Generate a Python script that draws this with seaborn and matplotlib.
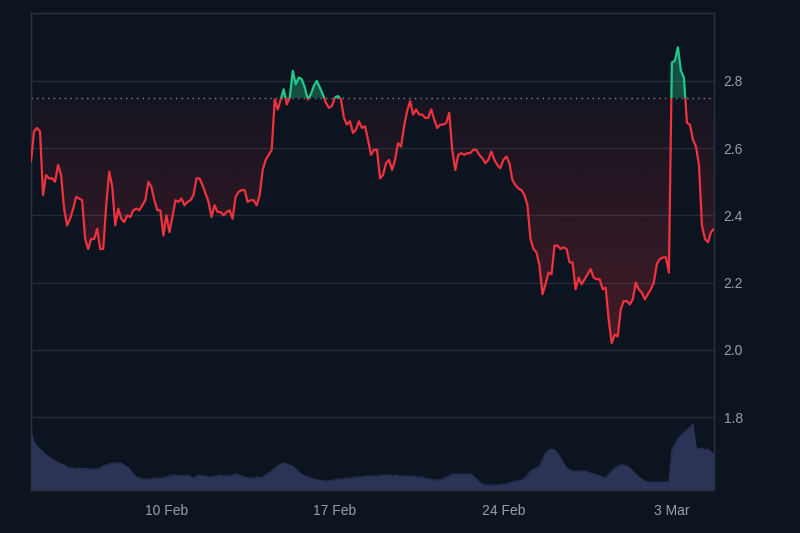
import numpy as np
import pandas as pd
import matplotlib
matplotlib.use("Agg")
import matplotlib.pyplot as plt
import matplotlib.dates as mdates
import matplotlib.transforms as mtransforms
from matplotlib.patches import Rectangle
from matplotlib.path import Path
import seaborn as sns

# ---------------- data (3-hourly samples) ----------------
price = [
    2.56, 2.65, 2.66, 2.65, 2.46, 2.52, 2.51, 2.51, 2.50, 2.55,
    2.52, 2.42, 2.37, 2.39, 2.42, 2.455, 2.45, 2.445, 2.33, 2.30,
    2.33, 2.33, 2.36, 2.30, 2.30, 2.43, 2.53, 2.485, 2.37, 2.42,
    2.39, 2.38, 2.40, 2.395, 2.415, 2.42, 2.415, 2.43, 2.445, 2.50,
    2.485, 2.445, 2.415, 2.415, 2.34, 2.40, 2.35, 2.395, 2.445, 2.44,
    2.45, 2.43, 2.44, 2.445, 2.46, 2.51, 2.51, 2.49, 2.465, 2.44,
    2.395, 2.43, 2.41, 2.41, 2.40, 2.41, 2.415, 2.39, 2.455, 2.47,
    2.475, 2.475, 2.44, 2.445, 2.445, 2.43, 2.46, 2.535, 2.565, 2.58,
    2.595, 2.745, 2.715, 2.745, 2.775, 2.73, 2.75, 2.83, 2.79, 2.81,
    2.805, 2.78, 2.745, 2.76, 2.785, 2.80, 2.78, 2.76, 2.735, 2.72,
    2.725, 2.75, 2.755, 2.745, 2.69, 2.67, 2.68, 2.645, 2.655, 2.68,
    2.66, 2.665, 2.625, 2.58, 2.595, 2.595, 2.51, 2.52, 2.555, 2.565,
    2.535, 2.565, 2.615, 2.605, 2.665, 2.71, 2.74, 2.70, 2.715, 2.70,
    2.70, 2.69, 2.69, 2.715, 2.685, 2.66, 2.67, 2.67, 2.675, 2.705,
    2.595, 2.535, 2.58, 2.585, 2.58, 2.585, 2.585, 2.595, 2.595, 2.58,
    2.57, 2.555, 2.565, 2.59, 2.565, 2.55, 2.54, 2.565, 2.575, 2.555,
    2.505, 2.49, 2.48, 2.475, 2.46, 2.43, 2.33, 2.30, 2.29, 2.25,
    2.165, 2.195, 2.23, 2.225, 2.31, 2.31, 2.30, 2.305, 2.30, 2.26,
    2.26, 2.18, 2.215, 2.195, 2.21, 2.225, 2.24, 2.215, 2.21, 2.21,
    2.18, 2.185, 2.09, 2.02, 2.045, 2.04, 2.12, 2.145, 2.145, 2.135,
    2.15, 2.20, 2.18, 2.17, 2.15, 2.165, 2.18, 2.20, 2.255, 2.27,
    2.275, 2.275, 2.23, 2.855, 2.86, 2.90, 2.83, 2.81, 2.675, 2.67,
    2.625, 2.605, 2.55, 2.37, 2.33, 2.32, 2.35, 2.36,
]
volume = [
    59, 48, 44, 41, 38, 35, 33, 31, 29, 28,
    26, 25, 23, 22, 22, 21, 22, 21, 22, 21,
    21, 21, 21, 22, 24, 25, 26, 27, 27, 27,
    27, 25, 23, 20, 16, 13, 12, 11, 11, 11,
    11, 12, 12, 12, 12, 13, 14, 15, 15, 14,
    15, 14, 15, 13, 12, 14, 15, 14, 14, 13,
    13, 14, 14, 15, 14, 14, 14, 15, 16, 15,
    14, 13, 12, 12, 12, 13, 12, 13, 15, 17,
    19, 22, 24, 26, 27, 26, 25, 24, 21, 18,
    16, 14, 13, 12, 11, 10, 10, 9, 9, 9,
    10, 10, 11, 11, 11, 12, 12, 12, 13, 13,
    13, 14, 14, 14, 14, 14, 14, 15, 15, 15,
    14, 15, 14, 14, 14, 14, 14, 14, 13, 13,
    13, 12, 11, 11, 10, 10, 10, 11, 13, 14,
    16, 16, 16, 16, 16, 16, 16, 14, 11, 8,
    6, 5, 5, 5, 5, 5, 5, 6, 6, 7,
    8, 9, 9, 10, 12, 15, 19, 21, 22, 24,
    30, 37, 40, 41, 40, 37, 32, 27, 22, 20,
    19, 19, 19, 19, 19, 18, 17, 16, 15, 14,
    13, 12, 16, 19, 22, 24, 25, 25, 24, 22,
    19, 16, 13, 11, 9, 8, 8, 8, 8, 8,
    8, 8, 8, 40, 46, 51, 55, 58, 60, 63,
    66, 43, 41, 42, 40, 41, 38, 36,
]
start_time = "2025-02-04 09:00"
sample_step = "3h"
baseline = 2.75
y_ticks = [1.8, 2.0, 2.2, 2.4, 2.6, 2.8]
y_tick_labels = ["1.8", "2.0", "2.2", "2.4", "2.6", "2.8"]
x_tick_dates = ["2025-02-10", "2025-02-17", "2025-02-24", "2025-03-03"]
x_tick_labels = ["10 Feb", "17 Feb", "24 Feb", "3 Mar"]

# ---------------- styling ----------------
BG = "#0c1420"
GRID = "#232c38"
SPINE = "#2a333f"
TXT = "#9aa0aa"
RED = "#f0323f"
GREEN = "#20c98a"
VOL = "#2b3356"

dates = pd.date_range(start_time, periods=len(price), freq=sample_step)
df = pd.DataFrame({"time": dates, "price": price, "volume": volume})
p_arr = np.array(price, dtype=float)

sns.set_theme(style="dark", rc={"axes.facecolor": BG, "figure.facecolor": BG})
plt.rcParams["font.family"] = ["Liberation Sans", "DejaVu Sans"]

fig = plt.figure(figsize=(8, 5.33), dpi=100, facecolor=BG)
rect = [31 / 800, 1 - 490 / 533, 683 / 800, 477 / 533]
axv = fig.add_axes(rect)
ax = fig.add_axes(rect, sharex=axv)

# ---------- volume (background axis) ----------
sns.lineplot(data=df, x="time", y="volume", ax=axv, color=VOL, lw=0.8)
axv.fill_between(df["time"], df["volume"], 0, color=VOL, lw=0)
axv.set_ylim(0, 478)
axv.axis("off")

# ---------- price axis ----------
ax.patch.set_visible(False)
x_num = mdates.date2num(dates)
y_lo, y_hi = 1.583, 3.002

for yt in y_ticks:
    ax.axhline(yt, color=GRID, lw=1.0, zorder=0.5)

# green fill above baseline
ax.fill_between(x_num, p_arr, baseline, where=p_arr >= baseline,
                interpolate=True, color=GREEN, alpha=0.33, lw=0, zorder=1)

# red gradient fill below baseline
pc = ax.fill_between(x_num, p_arr, baseline, where=p_arr <= baseline,
                     interpolate=True, facecolor="none", edgecolor="none", zorder=1)
clip = Path.make_compound_path(*pc.get_paths())
n = 256
yy = np.linspace(y_lo, baseline, n)
alpha = np.clip(0.04 + (baseline - yy) / 0.75 * 0.21, 0, 0.32)
img = np.zeros((n, 2, 4))
rgb = matplotlib.colors.to_rgb(RED)
img[..., 0], img[..., 1], img[..., 2] = rgb
img[..., 3] = alpha[:, None]
im = ax.imshow(img, extent=[x_num[0], x_num[-1], y_lo, baseline],
               origin="lower", aspect="auto", zorder=1, interpolation="bilinear")
im.set_clip_path(clip, ax.transData)

# dotted baseline
ax.axhline(baseline, color="#80858f", lw=1.0, ls=(0, (1, 3)), zorder=2)

# price line: red below baseline, green above
trans = mtransforms.blended_transform_factory(ax.transAxes, ax.transData)
sns.lineplot(data=df, x="time", y="price", ax=ax, color=RED, lw=1.6, zorder=3)
ax.lines[-1].set_clip_path(Rectangle((0, baseline - 10), 1, 10, transform=trans))
sns.lineplot(data=df, x="time", y="price", ax=ax, color=GREEN, lw=1.6, zorder=3)
ax.lines[-1].set_clip_path(Rectangle((0, baseline), 1, 10, transform=trans))

ax.set_xlim(x_num[0], x_num[-1])
ax.set_ylim(y_lo, y_hi)
ax.set_xlabel("")
ax.set_ylabel("")
ax.grid(False)

ax.yaxis.tick_right()
ax.set_yticks(y_ticks)
ax.set_yticklabels(y_tick_labels)
ax.set_xticks(mdates.date2num(pd.to_datetime(x_tick_dates)))
ax.set_xticklabels(x_tick_labels)
ax.tick_params(axis="y", colors=TXT, length=0, pad=7, labelsize=10)
ax.tick_params(axis="x", colors=TXT, length=0, pad=10, labelsize=10)

for s in ax.spines.values():
    s.set_visible(True)
    s.set_color(SPINE)
    s.set_linewidth(1.0)

fig.savefig("out.png", dpi=100, facecolor=BG)
